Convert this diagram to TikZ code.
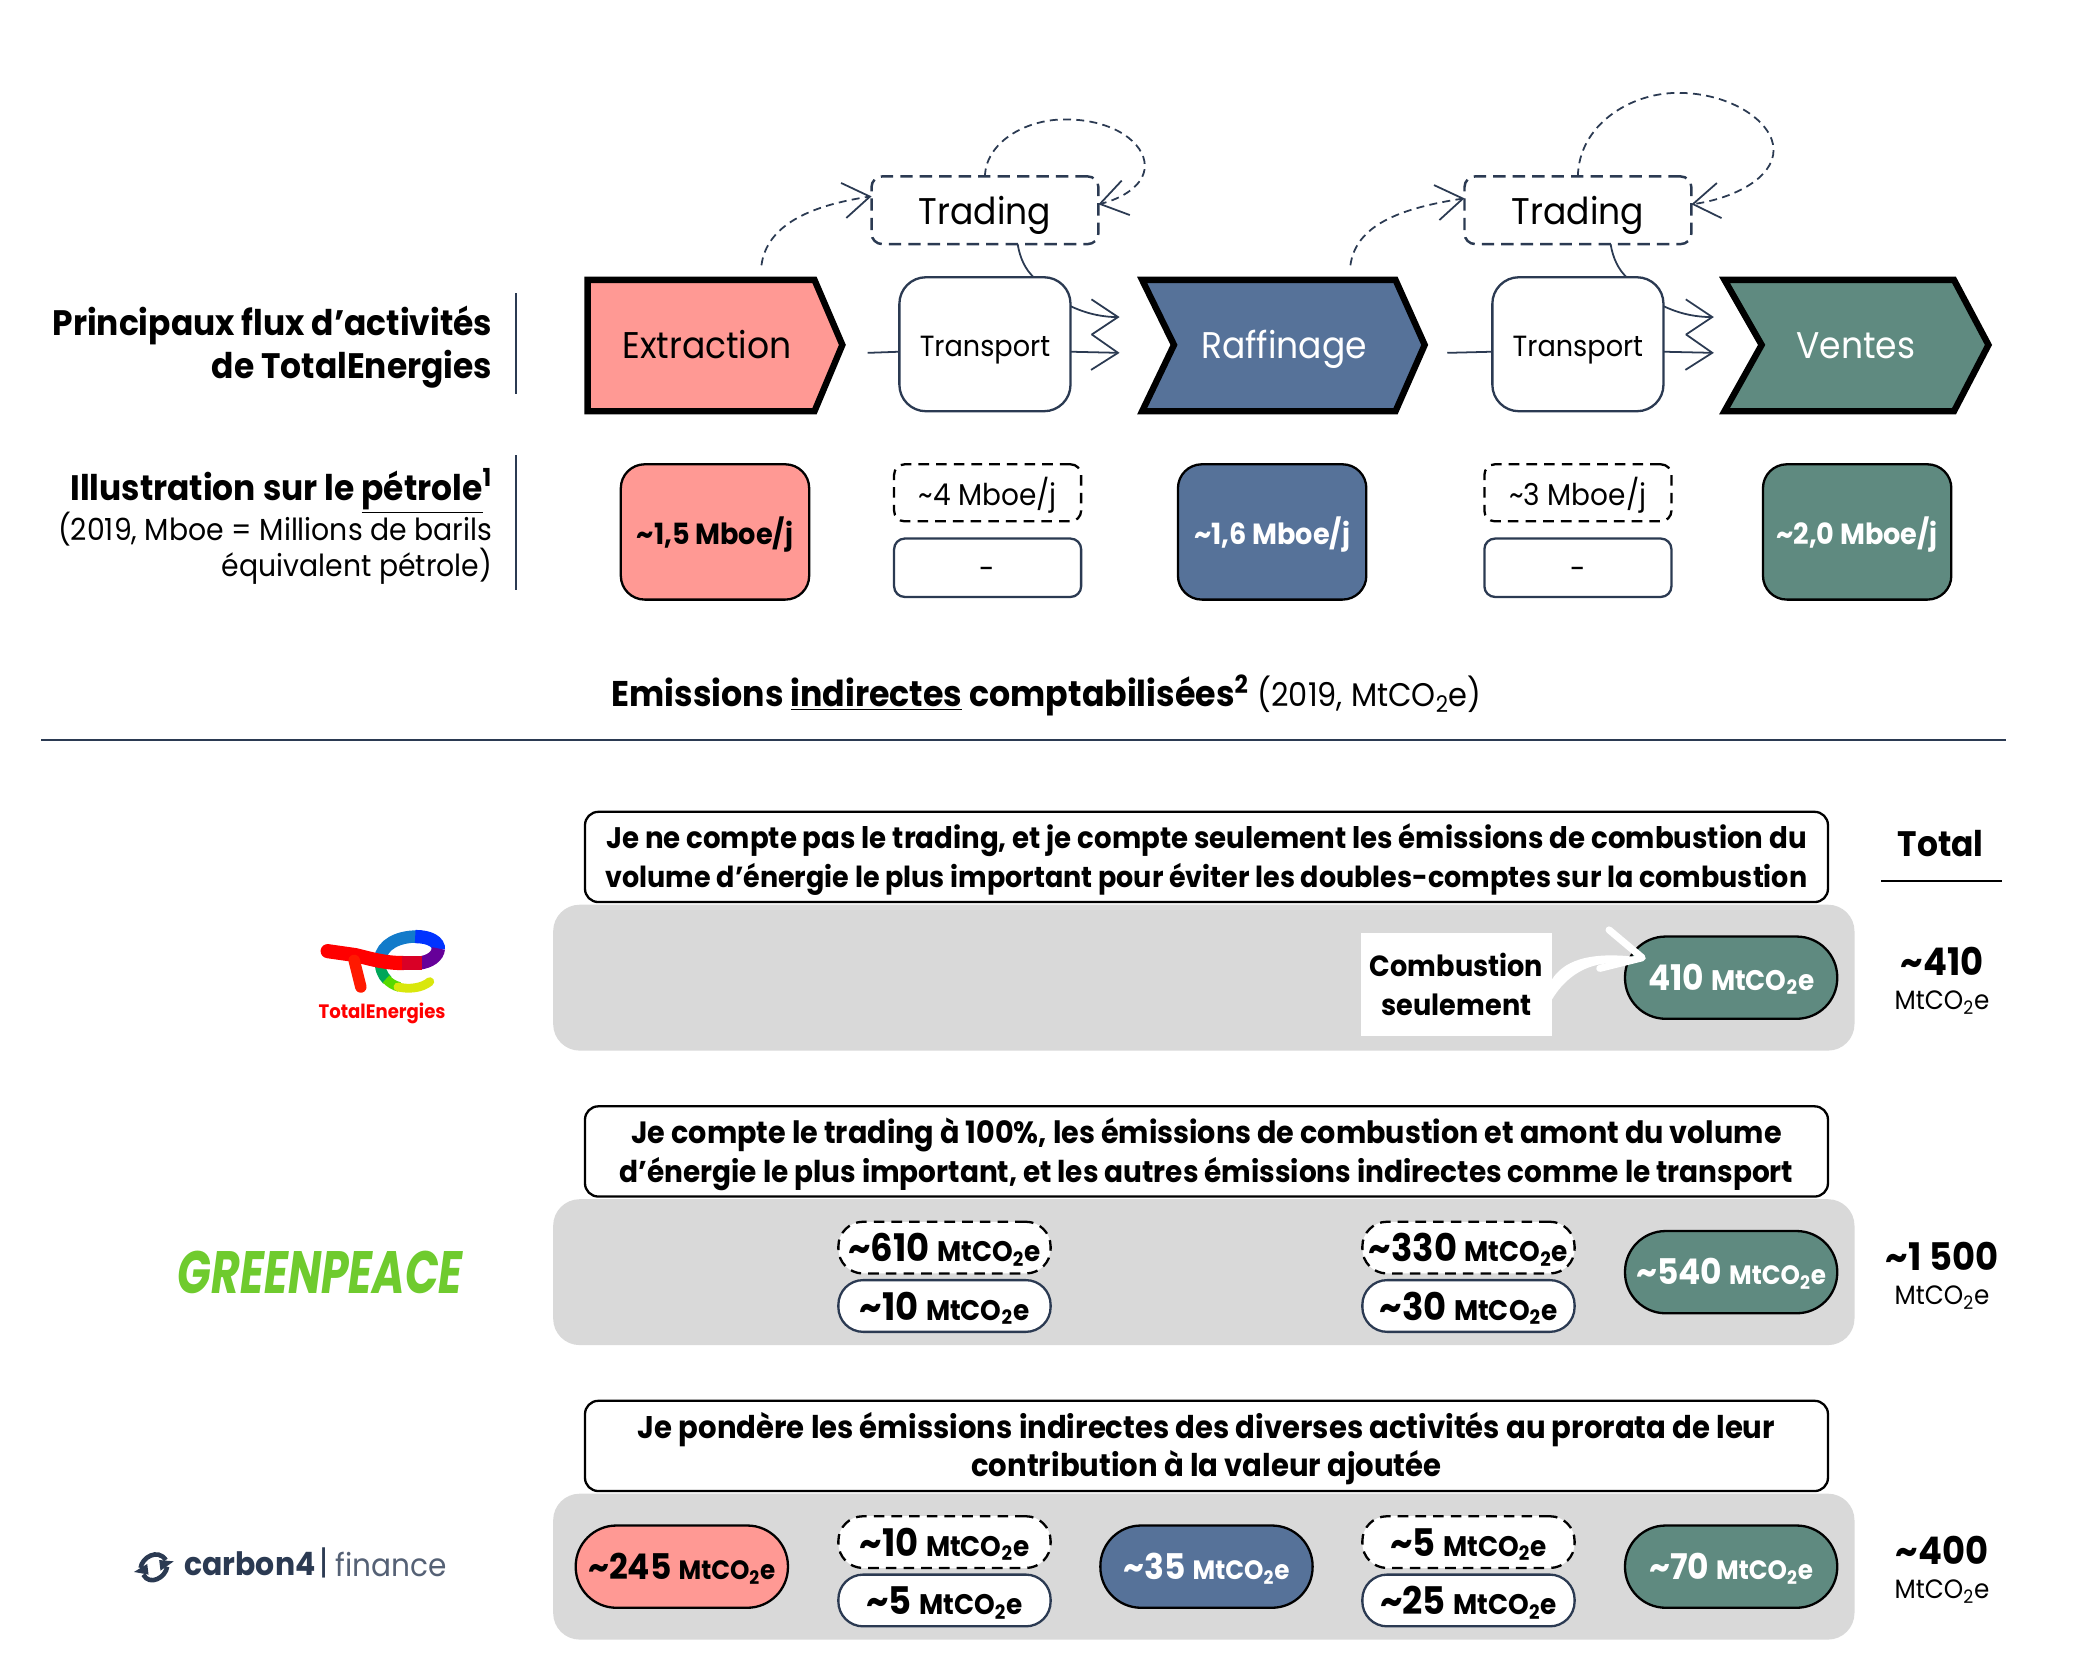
\documentclass[tikz,border=0pt]{standalone}
\usepackage{fontspec}
\usepackage{graphicx}
\setmainfont{Poppins}[FakeStretch=0.93]
\usetikzlibrary{arrows.meta}
\definecolor{navy}{HTML}{2B3A52}
\definecolor{salmon}{HTML}{FF9994}
\definecolor{steel}{HTML}{567299}
\definecolor{sage}{HTML}{5F8A80}
\definecolor{barfill}{HTML}{D9D9D9}
\definecolor{leafgreen}{HTML}{6FCB2E}
\newcommand{\tl}{\textasciitilde}
\newcommand{\mt}[1]{{\fontsize{#1}{#1}\selectfont MtCO\textsubscript{2}e}}
\tikzset{
    every node/.style={outer sep=0pt,inner sep=0pt},
    flowtext/.style={text height=15pt,text depth=0pt,font=\fontsize{21}{21}\selectfont},
    tradingbox/.style={draw=navy,line width=1.4pt,dash pattern=on 7pt off 4pt,rounded corners=6pt,minimum width=128.25pt,minimum height=38.25pt,text height=16pt,text depth=0pt,font=\fontsize{21}{21}\selectfont},
    transportbox/.style={draw=navy,line width=1.3pt,fill=white,rounded corners=15pt,minimum width=96.75pt,minimum height=75.75pt,text height=14pt,text depth=0pt,font=\fontsize{16.5}{16.5}\selectfont},
    volbox/.style={draw=black,line width=1.3pt,rounded corners=13.5pt,minimum width=106.5pt,minimum height=76.5pt,text height=14pt,text depth=0pt,font=\fontsize{16.5}{16.5}\selectfont\bfseries},
    voldash/.style={draw=black,line width=1.3pt,dash pattern=on 6pt off 4pt,rounded corners=6pt,minimum width=105.75pt,minimum height=32.25pt,text height=14pt,text depth=0pt,font=\fontsize{17}{17}\selectfont},
    volplain/.style={draw=navy,line width=1.3pt,rounded corners=6pt,minimum width=105.75pt,minimum height=33pt,text height=13pt,text depth=0pt,font=\fontsize{17}{17}\selectfont},
    graybar/.style={fill=barfill,rounded corners=15pt,minimum width=735.75pt,minimum height=82.5pt},
    statement/.style={draw=black,line width=1.3pt,fill=white,rounded corners=7.5pt,minimum width=702.75pt,minimum height=51pt},
    saytext/.style={yshift=-1.5pt,align=center,font=\fontsize{#1}{21.75}\selectfont\bfseries},
    bigpill/.style={draw=black,line width=1.3pt,rounded corners=23pt,minimum width=120pt,minimum height=46.5pt,text height=14pt,text depth=0pt,font=\fontsize{20}{20}\selectfont\bfseries},
    dashpill/.style={draw=black,line width=1.3pt,dash pattern=on 6pt off 4pt,fill=white,rounded corners=14pt,minimum width=120pt,minimum height=29.25pt,text height=16pt,text depth=0pt,font=\fontsize{21.5}{21.5}\selectfont\bfseries},
    plainpill/.style={draw=navy,line width=1.3pt,fill=white,rounded corners=14pt,minimum width=120pt,minimum height=29.25pt,text height=16pt,text depth=0pt,font=\fontsize{21.5}{21.5}\selectfont\bfseries},
    headtext/.style={anchor=east,align=right,font=\fontsize{20}{20}\selectfont\bfseries},
    subtext/.style={anchor=east,align=right,font=\fontsize{17.2}{17.2}\selectfont},
    totalnum/.style={font=\fontsize{21.5}{21.5}\selectfont\bfseries},
    totalunit/.style={font=\fontsize{15}{15}\selectfont},
    link/.style={draw=navy,line width=1pt},
    linkhead/.style={link,-{Straight Barb[length=15pt,width=20pt,line width=1pt]}},
    tradelink/.style={linkhead,dash pattern=on 4.5pt off 3pt},
}
\begin{document}
\begin{tikzpicture}[x=0.75pt,y=0.75pt,yscale=-1,xscale=1]
    \useasboundingbox (0,0) rectangle (1568,1260.4);

    % value chain
    \draw [black,line width=3.6pt,fill=salmon,miter limit=10] (443,211) -- (614,211) -- (635,260) -- (614,310) -- (443,310) -- cycle ;
    \draw [black,line width=3.6pt,fill=steel,miter limit=10] (861,211) -- (1052,211) -- (1074,260) -- (1052,310) -- (861,310) -- (885,260) -- cycle ;
    \draw [black,line width=3.6pt,fill=sage,miter limit=10] (1300,211) -- (1473,211) -- (1499,260) -- (1473,310) -- (1300,310) -- (1328,260) -- cycle ;
    \node [flowtext] (extraction) at (533,260) {Extraction};
    \node [flowtext,text=white] (raffinage) at (968,260) {Raffinage};
    \node [flowtext,text=white] (ventes) at (1399,260) {Ventes};

    \node [tradingbox] (trading1) at (742.5,158.5) {Trading};
    \node [tradingbox] (trading2) at (1189.5,158.5) {Trading};
    \node [transportbox] (transport1) at (742.5,259.5) {Transport};
    \node [transportbox] (transport2) at (1189.5,259.5) {Transport};

    \coordinate (extractionout) at (574,200);
    \coordinate (raffinageout) at (1018,200);
    \coordinate (extractionend) at (654,266);
    \coordinate (raffinageend) at (1091,266);
    \coordinate (raffinagein) at (844,266);
    \coordinate (raffinagetop) at (844,239);
    \coordinate (ventesin) at (1292,266);
    \coordinate (ventestop) at (1292,239);

    \draw [tradelink] (extractionout) .. controls (578,170) and (610,155) .. (trading1.173) ;
    \draw [tradelink] (raffinageout) .. controls (1022,170) and (1055,157) .. (trading2.174) ;
    \draw [tradelink] (trading1.north) .. controls (743,108) and (772,90) .. (803,90) .. controls (840,90) and (863,108) .. (863,125) .. controls (863,140) and (845,150) .. (trading1.3) ;
    \draw [tradelink] (trading2.north) .. controls (1190,95) and (1228,70) .. (1265,70) .. controls (1305,70) and (1337,92) .. (1337,113) .. controls (1337,135) and (1305,150) .. (trading2.3) ;
    \draw [link] (trading1.-46) .. controls (769,195) and (773,203) .. (transport1.54) ;
    \draw [link] (trading2.-46) .. controls (1216,195) and (1220,203) .. (transport2.54) ;
    \draw [link] (extractionend) -- (transport1.185) ;
    \draw [link] (raffinageend) -- (transport2.185) ;
    \draw [linkhead] (transport1.-5) -- (raffinagein) ;
    \draw [linkhead] (transport2.-5) -- (ventesin) ;
    \draw [linkhead] (transport1.24) .. controls (818,236) and (830,239) .. (raffinagetop) ;
    \draw [linkhead] (transport2.24) .. controls (1265,236) and (1277,239) .. (ventestop) ;

    % oil volumes
    \node [volbox,fill=salmon] (volextraction) at (539,401) {\tl 1,5 Mboe/j};
    \node [volbox,fill=steel,text=white] (volraffinage) at (959,401) {\tl 1,6 Mboe/j};
    \node [volbox,fill=sage,text=white] (volventes) at (1400,401) {\tl 2,0 Mboe/j};
    \node [voldash] (voltrading1) at (744.5,371.5) {\tl 4 Mboe/j};
    \node [voldash] (voltrading2) at (1189.5,371.5) {\tl 3 Mboe/j};
    \node [volplain] (voltransport1) at (744.5,428) {-};
    \node [volplain] (voltransport2) at (1189.5,428) {-};

    % left titles
    \node [headtext] (titleflux) at (371,245) {Principaux flux d’activités};
    \node [headtext] (titletotal) at (371,278) {de TotalEnergies};
    \node [headtext] (titleoil) at (371,370) {Illustration sur le \underline{pétrole}\textsuperscript{1}};
    \node [subtext] (subone) at (371,399) {(2019, Mboe = Millions de barils};
    \node [subtext] (subtwo) at (371,427) {équivalent pétrole)};
    \coordinate (rule1a) at (389,221);
    \coordinate (rule1b) at (389,297);
    \coordinate (rule2a) at (389,343);
    \coordinate (rule2b) at (389,445);
    \draw [link] (rule1a) -- (rule1b) ;
    \draw [link] (rule2a) -- (rule2b) ;

    % heading
    \node [font=\fontsize{20.2}{20}\selectfont] (heading) at (789,524) {\textbf{Emissions \underline{indirectes} comptabilisées\textsuperscript{2}} {\fontsize{18.5}{18.5}\selectfont (2019, MtCO\textsubscript{2}e)}};
    \coordinate (splitleft) at (31,558);
    \coordinate (splitright) at (1512,558);
    \draw [link] (splitleft) -- (splitright) ;

    % rows
    \node [graybar] (bar1) at (907.5,737) {};
    \node [graybar] (bar2) at (907.5,959) {};
    \node [graybar] (bar3) at (907.5,1181) {};
    \node [statement] (say1) at (909.5,646) {};
    \node [statement] (say2) at (909.5,868) {};
    \node [statement] (say3) at (909.5,1090) {};
    \node [saytext=16.8] (saytext1) at (say1) {Je ne compte pas le trading, et je compte seulement les émissions de combustion du\\\fontsize{16.4}{21.75}\selectfont volume d’énergie le plus important pour éviter les doubles-comptes sur la combustion};
    \node [saytext=17.4] (saytext2) at (say2) {Je compte le trading à 100\%, les émissions de combustion et amont du volume\\\fontsize{17}{21.75}\selectfont d’énergie le plus important, et les autres émissions indirectes comme le transport};
    \node [saytext=17.7] (saytext3) at (say3) {Je pondère les émissions indirectes des diverses activités au prorata de leur\\contribution à la valeur ajoutée};

    % row 1
    \node [bigpill,fill=sage,text=white] (pilla) at (1305,737) {410 \mt{16}};
    \node [fill=white,minimum width=108pt,minimum height=58.5pt,align=center,font=\fontsize{16.5}{22}\selectfont\bfseries] (combustion) at (1098,742) {Combustion\\seulement};
    \coordinate (barbtop) at (1213,701);
    \coordinate (barblow) at (1206,730);
    \coordinate (barbtip) at (1238,722);
    \fill [white] (combustion.3) .. controls (1178,726) and (1195,716) .. (barbtip) -- (1206,727) .. controls (1190,730) and (1178,740) .. (combustion.-9) -- cycle ;
    \draw [white,line width=4pt,line cap=round,line join=round] (barbtop) -- (barbtip) -- (barblow) ;

    % row 2
    \node [dashpill] (pillb) at (712,940.5) {\tl 610 \mt{16}};
    \node [plainpill] (pillc) at (712,984.5) {\tl 10 \mt{16}};
    \node [dashpill] (pilld) at (1107,940.5) {\tl 330 \mt{16}};
    \node [plainpill] (pille) at (1107,984.5) {\tl 30 \mt{16}};
    \node [bigpill,fill=sage,text=white] (pillf) at (1305,959) {\tl 540 \mt{15}};

    % row 3
    \node [bigpill,fill=salmon] (pillg) at (514,1181) {\tl 245 \mt{15}};
    \node [dashpill] (pillh) at (712,1162.5) {\tl 10 \mt{16}};
    \node [plainpill] (pilli) at (712,1206.5) {\tl 5 \mt{16}};
    \node [bigpill,fill=steel,text=white] (pillj) at (909.5,1181) {\tl 35 \mt{15}};
    \node [dashpill] (pillk) at (1107,1162.5) {\tl 5 \mt{16}};
    \node [plainpill] (pilll) at (1107,1206.5) {\tl 25 \mt{16}};
    \node [bigpill,fill=sage,text=white] (pillm) at (1305,1181) {\tl 70 \mt{15}};

    % totals
    \node [totalnum,font=\fontsize{20}{20}\selectfont\bfseries] (totalhead) at (1463,636) {Total};
    \coordinate (totalleft) at (1418,664);
    \coordinate (totalright) at (1509,664);
    \draw [black,line width=0.8pt] (totalleft) -- (totalright) ;
    \node [totalnum] (totala) at (1464,725) {\tl 410};
    \node [totalunit] (unita) at (1464,756) {MtCO\textsubscript{2}e};
    \node [totalnum] (totalb) at (1464,947) {\tl 1 500};
    \node [totalunit] (unitb) at (1464,978) {MtCO\textsubscript{2}e};
    \node [totalnum] (totalc) at (1464,1169) {\tl 400};
    \node [totalunit] (unitc) at (1464,1200) {MtCO\textsubscript{2}e};

    % logo TotalEnergies
    \draw [cyan!60!blue,line width=7pt] (286.5,723) .. controls (288,712) and (300,706) .. (314,706) ;
    \draw [blue!80!cyan,line width=7.5pt] (313,706) .. controls (324,706) and (331,710) .. (330.5,716) ;
    \draw [violet!80!blue,line width=7.5pt] (330.5,715) .. controls (330,721) and (324,725) .. (316,726) ;
    \draw [teal!70!green,line width=6pt] (286.5,722) .. controls (286,730) and (288,735) .. (292,739) ;
    \draw [green!60!yellow!85!black,line width=5.5pt] (291,738) .. controls (294,741) and (297,743) .. (301,744) ;
    \draw [yellow!85!green,line width=5pt,line cap=round] (300,744) .. controls (308,746) and (318,745) .. (324,740) ;
    \draw [red,line width=8pt,line cap=round] (247,717) -- (268,720) .. controls (280,723) and (290,726) .. (304,726) ;
    \draw [red!70!violet,line width=7.5pt] (303,726) -- (318,726) ;
    \draw [red!80!orange,line width=6.5pt,line cap=round] (267,724) -- (272,744) ;
    \node [text=red,font=\fontsize{11}{11}\selectfont\bfseries] (totallabel) at (288,764) {TotalEnergies};

    % logo Greenpeace
    \node [text=leafgreen] (greenpeace) at (241.5,959) {\resizebox{161pt}{24pt}{\bfseries\itshape GREENPEACE}};

    % logo carbon4
    \draw [navy,line width=2.6pt] (106,1182) .. controls (107,1174) and (119,1167) .. (125,1176) ;
    \draw [navy,line width=2.6pt] (126,1181) .. controls (125,1189) and (113,1196) .. (108,1187) ;
    \fill [navy] (101,1185) -- (111,1179) -- (112,1187) -- cycle ;
    \fill [navy] (131,1177) -- (121,1184) -- (120,1176) -- cycle ;
    \node [anchor=west,text=navy,font=\fontsize{18.2}{18.2}\selectfont\bfseries] (carbontext) at (139,1179) {carbon4};
    \node [text=navy,font=\fontsize{19}{19}\selectfont] (carbonbar) at (244.5,1178) {|};
    \node [anchor=west,text=navy!80,font=\fontsize{18}{18}\selectfont] (financetext) at (253,1179) {finance};
\end{tikzpicture}
\end{document}
